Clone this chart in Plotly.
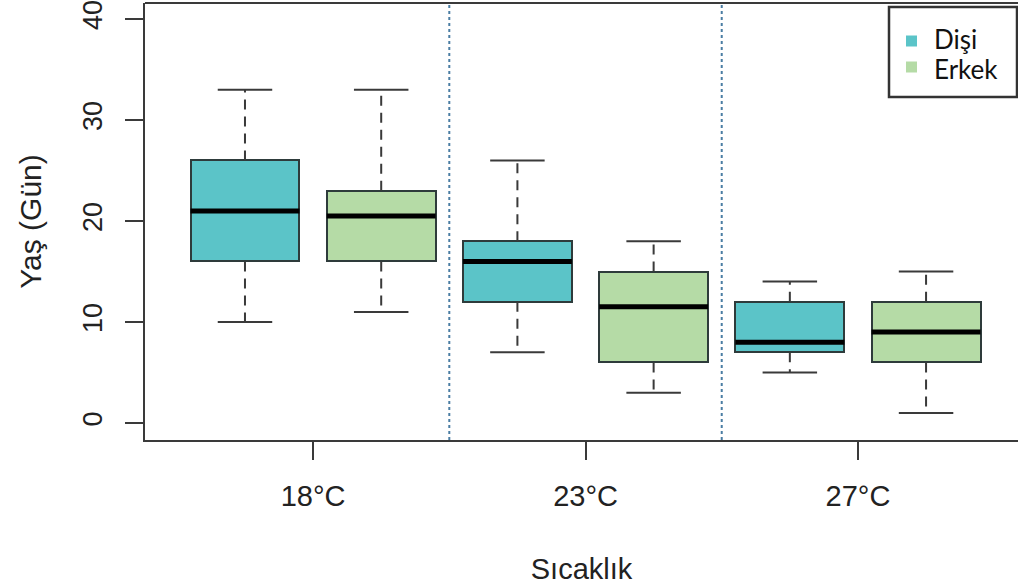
import plotly.graph_objects as go

# ---------------- data ----------------
groups = ["18°C", "23°C", "27°C"]
series = ["Dişi", "Erkek"]
series_colors = ["#5BC4C8", "#B5DBA6"]

disi_min = [10, 7, 5]
disi_q1 = [16, 12, 7]
disi_med = [21, 16, 8]
disi_q3 = [26, 18, 12]
disi_max = [33, 26, 14]

erkek_min = [11, 3, 1]
erkek_q1 = [16, 6, 6]
erkek_med = [20.5, 11.5, 9]
erkek_q3 = [23, 15, 12]
erkek_max = [33, 18, 15]

y_ticks = [0, 10, 20, 30, 40]

stats = [
    (disi_min, disi_q1, disi_med, disi_q3, disi_max),
    (erkek_min, erkek_q1, erkek_med, erkek_q3, erkek_max),
]

# ---------------- layout constants ----------------
W, H = 1018, 588
L, R, T, B = 145, 0, 3, 148
BOX_W = 0.8
CAP_W = 0.4
FONT = "Liberation Sans, Arial, sans-serif"
EDGE = "#2E3B3B"
AXC = "#3A3A3A"
TXT = "#222222"

fig = go.Figure()

for s, (mn, q1, med, q3, mx) in enumerate(stats):
    pos = [2 * g + s + 1 for g in range(len(groups))]
    wx, wy = [], []
    cx, cy = [], []
    mxs, mys = [], []
    for i, p in enumerate(pos):
        wx += [p, p, None, p, p, None]
        wy += [q3[i], mx[i], None, q1[i], mn[i], None]
        cx += [p - CAP_W / 2, p + CAP_W / 2, None, p - CAP_W / 2, p + CAP_W / 2, None]
        cy += [mx[i], mx[i], None, mn[i], mn[i], None]
        mxs += [p - BOX_W / 2, p + BOX_W / 2, None]
        mys += [med[i], med[i], None]
    fig.add_trace(go.Scatter(x=wx, y=wy, mode="lines", showlegend=False, hoverinfo="skip",
                             line=dict(color=AXC, width=2, dash="10px,7px")))
    fig.add_trace(go.Scatter(x=cx, y=cy, mode="lines", showlegend=False, hoverinfo="skip",
                             line=dict(color=AXC, width=2)))
    fig.add_trace(go.Bar(x=pos, y=[q3[i] - q1[i] for i in range(len(pos))], base=q1,
                         width=BOX_W, name=series[s], showlegend=False,
                         marker=dict(color=series_colors[s], line=dict(color=EDGE, width=2))))
    fig.add_trace(go.Scatter(x=mxs, y=mys, mode="lines", showlegend=False, hoverinfo="skip",
                             line=dict(color="black", width=5)))

# dotted separators between groups
for g in range(1, len(groups)):
    fig.add_shape(type="line", xref="x", yref="paper", x0=2 * g + 0.5, x1=2 * g + 0.5,
                  y0=0, y1=1, line=dict(color="#4A7DA3", width=2, dash="dot"))

# plot frame top
fig.add_shape(type="line", xref="paper", yref="paper", x0=0, x1=1, y0=1, y1=1,
              line=dict(color=AXC, width=2))

pw = W - L - R
ph = H - T - B

def px2paper(px, py):
    return (px - L) / pw, (H - B - py) / ph

# manual legend
lx0, ly0 = px2paper(889, 7)
lx1, ly1 = px2paper(1017, 97)
fig.add_shape(type="rect", xref="paper", yref="paper", x0=lx0, x1=lx1, y0=ly1, y1=ly0,
              line=dict(color="#333333", width=2.5), fillcolor="white", layer="above")
sq_centers = [41, 67]
txt_centers = [39, 69]
for s, name in enumerate(series):
    cyp = sq_centers[s]
    sx0, sy0 = px2paper(906, cyp - 5.5)
    sx1, sy1 = px2paper(917, cyp + 5.5)
    fig.add_shape(type="rect", xref="paper", yref="paper", x0=sx0, x1=sx1, y0=sy1, y1=sy0,
                  line=dict(width=0), fillcolor=series_colors[s], layer="above")
    tx, ty = px2paper(932, txt_centers[s])
    fig.add_annotation(xref="paper", yref="paper", x=tx, y=ty, text=name, showarrow=False,
                       xanchor="left", yanchor="middle",
                       font=dict(family="Lato, Open Sans, sans-serif", size=26, color="#111111"))

fig.update_layout(
    width=W, height=H,
    margin=dict(l=L, r=R, t=T, b=B),
    plot_bgcolor="white", paper_bgcolor="white",
    showlegend=False,
    bargap=0,
    font=dict(family=FONT, color=TXT),
    xaxis=dict(
        range=[0.266, 6.675], showgrid=False, zeroline=False,
        tickmode="array", tickvals=[2 * g + 1.5 for g in range(len(groups))], ticktext=groups,
        ticks="outside", ticklen=18, tickwidth=2, tickcolor=AXC,
        showline=True, linecolor=AXC, linewidth=2,
        tickfont=dict(size=29, family=FONT, color=TXT),
        ticklabelstandoff=11,
        title=dict(text="Sıcaklık", font=dict(size=29, family=FONT, color=TXT), standoff=48),
        automargin=False,
    ),
    yaxis=dict(
        range=[-1.68, 41.58], showgrid=False, zeroline=False,
        tickmode="array", tickvals=y_ticks, ticktext=[str(v) for v in y_ticks],
        ticks="outside", ticklen=18, tickwidth=2, tickcolor=AXC,
        showline=True, linecolor=AXC, linewidth=2,
        tickangle=-90,
        tickfont=dict(size=27, family=FONT, color=TXT),
        ticklabelstandoff=12,
        ticklabeloverflow="allow",
        title=dict(text="Yaş (Gün)", font=dict(size=30, family=FONT, color=TXT), standoff=28),
        automargin=False,
    ),
)

fig.write_html("out.html")
